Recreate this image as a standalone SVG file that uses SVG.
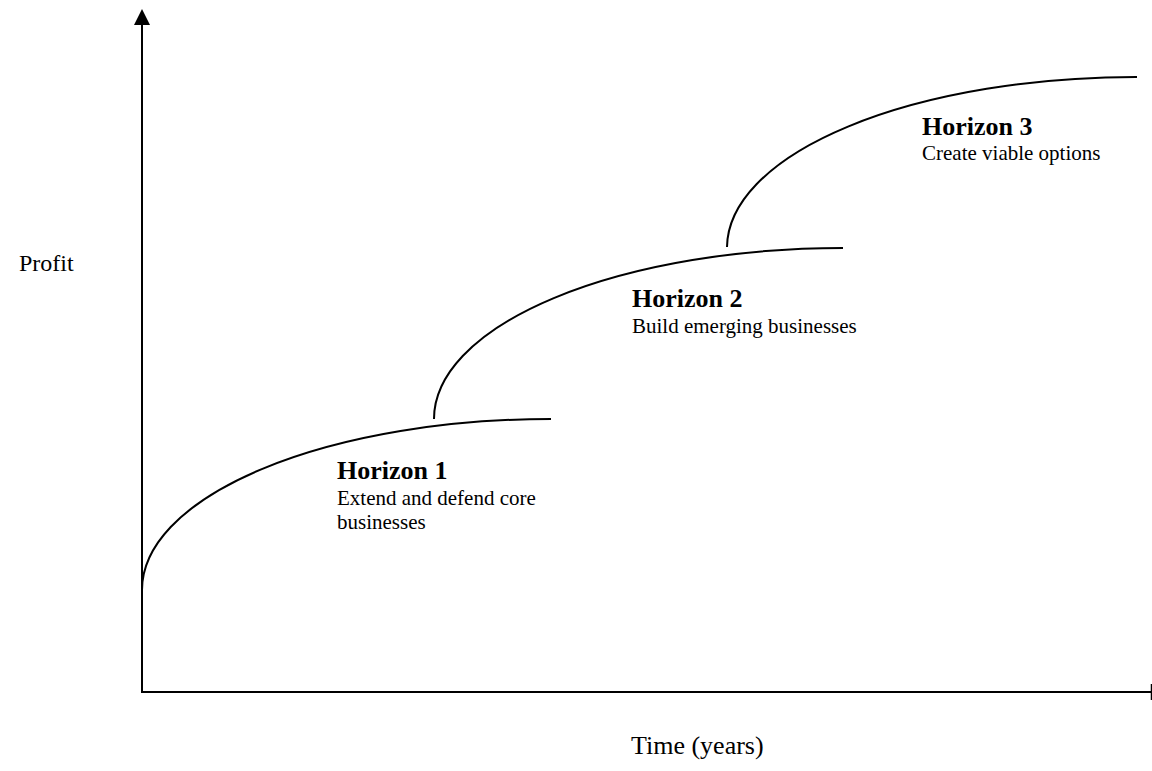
<svg xmlns="http://www.w3.org/2000/svg" width="1152" height="771" viewBox="0 0 1152 771">
  <defs>
    <style>
      .axis { stroke: #000; stroke-width: 2; fill: none; }
      .curve { stroke: #000; stroke-width: 2; fill: none; }
      .title { font-family: "Liberation Serif", "Times New Roman", serif; font-weight: bold; font-size: 26px; fill: #000; }
      .desc { font-family: "Liberation Serif", "Times New Roman", serif; font-size: 21px; fill: #000; }
      .label { font-family: "Liberation Serif", "Times New Roman", serif; font-size: 24px; fill: #000; }
    </style>
  </defs>
  <rect width="1152" height="771" fill="#fff"/>
  <g id="axes">
    <line class="axis" x1="142" y1="692" x2="142" y2="22"/>
    <polygon points="142,9 134,25 150,25" fill="#000"/>
    <line class="axis" x1="141" y1="692" x2="1152" y2="692"/>
    <line x1="1151.5" y1="684" x2="1151.5" y2="700" stroke="#000" stroke-width="1.5"/>
  </g>
  <g id="connectors">
    <path id="curve1" class="curve" d="M142,590 A409,171 0 0 1 551,419"/>
    <path id="curve2" class="curve" d="M434,419 A409,171 0 0 1 843,248"/>
    <path id="curve3" class="curve" d="M727,247 A409,171 0 0 1 1137,77"/>
  </g>
  <g id="horizon1">
    <text class="title" x="337" y="479">Horizon 1</text>
    <text class="desc" x="337" y="505">Extend and defend core</text>
    <text class="desc" x="337" y="529">businesses</text>
  </g>
  <g id="horizon2">
    <text class="title" x="632" y="307">Horizon 2</text>
    <text class="desc" x="632" y="333">Build emerging businesses</text>
  </g>
  <g id="horizon3">
    <text class="title" x="922" y="135">Horizon 3</text>
    <text class="desc" x="922" y="160">Create viable options</text>
  </g>
  <g id="profit-label">
    <text class="label" x="19" y="271">Profit</text>
  </g>
  <g id="time-label">
    <text class="label" x="631" y="754" style="font-size:26px">Time (years)</text>
  </g>
</svg>
